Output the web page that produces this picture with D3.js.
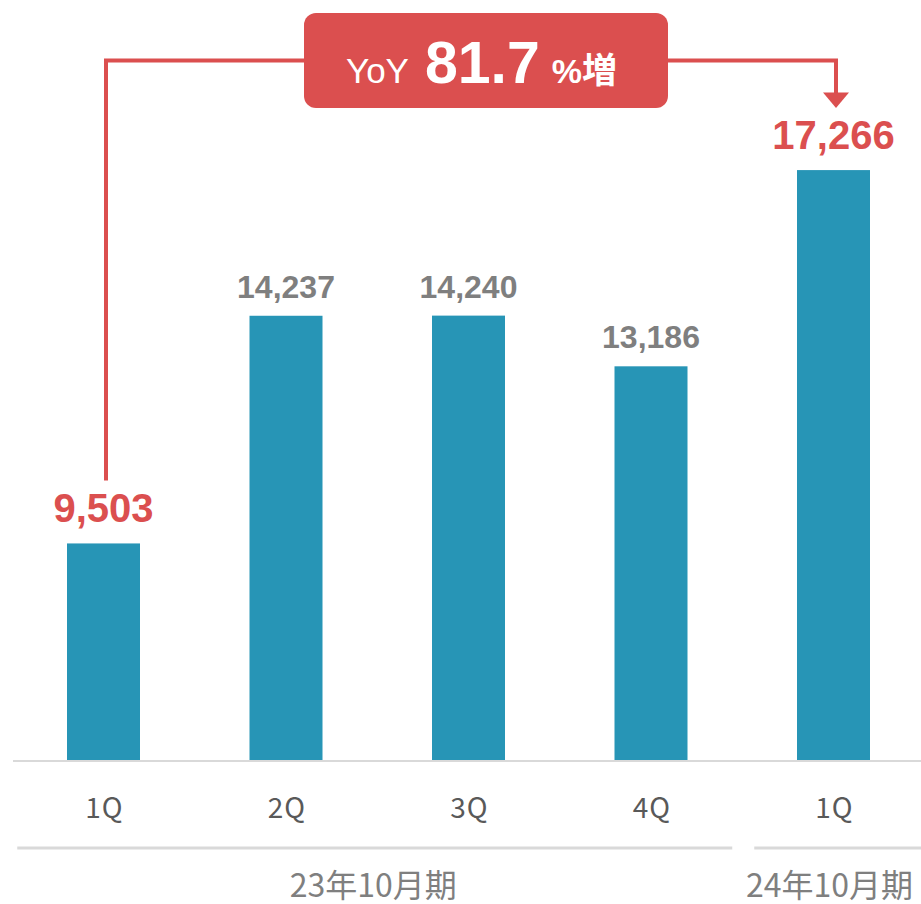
<!DOCTYPE html>
<html>
<head>
<meta charset="utf-8">
<script src="https://cdn.jsdelivr.net/npm/d3@7"></script>
<style>
  html, body { margin: 0; padding: 0; background: #fff; }
  svg { display: block; }
</style>
</head>
<body>
<div id="chart"></div>
<script>
// data
var quarters = ['1Q', '2Q', '3Q', '4Q', '1Q'];
var sales = [9503, 14237, 14240, 13186, 17266];
var highlighted = [true, false, false, false, true];
var periodLabels = ['23年10月期', '24年10月期'];
var periodFirst = [0, 4];
var periodLast = [3, 4];
var yoyRate = 81.7;

var width = 921, height = 904;
var red = '#db4f4f', blue = '#2795b6', lineGray = '#d9d9d9';

var svg = d3.select('#chart').append('svg')
    .attr('width', width)
    .attr('height', height);

var idx = d3.range(sales.length);

var x = d3.scaleBand()
    .domain(idx)
    .range([12.25, 924.75])
    .paddingInner(0.6)
    .paddingOuter(0.3);

// baseline isn't zero on this chart
var y = d3.scaleLinear()
    .domain([5000, 20000])
    .range([760, 38.6]);

var fmt = d3.format(',');
var step = x.step();
var cellStart = function(i) { return x(i) - step * 0.3; };
var cx = function(i) { return x(i) + x.bandwidth() / 2; };

// bars
svg.selectAll('.bar')
    .data(idx)
    .enter()
    .append('rect')
      .attr('class', 'bar')
      .attr('x', function(i) { return x(i); })
      .attr('y', function(i) { return y(sales[i]); })
      .attr('width', x.bandwidth())
      .attr('height', function(i) { return y.range()[0] - y(sales[i]); })
      .style('fill', blue);

// baseline
svg.append('line')
    .attr('x1', 13).attr('x2', width)
    .attr('y1', y.range()[0] + 1).attr('y2', y.range()[0] + 1)
    .style('stroke', lineGray)
    .style('stroke-width', 2);

// value labels
svg.selectAll('.value')
    .data(idx)
    .enter()
    .append('text')
      .attr('class', 'value')
      .text(function(i) { return fmt(sales[i]); })
      .attr('x', function(i) { return cx(i); })
      .attr('y', function(i) { return y(sales[i]) - (highlighted[i] ? 21 : 18); })
      .style('text-anchor', 'middle')
      .style('font-family', '"Liberation Sans", Arial, sans-serif')
      .style('font-weight', 'bold')
      .style('font-size', function(i) { return highlighted[i] ? '40px' : '32px'; })
      .style('fill', function(i) { return highlighted[i] ? red : '#7f7f7f'; });

// quarter labels
svg.selectAll('.qLabel')
    .data(idx)
    .enter()
    .append('text')
      .attr('class', 'qLabel')
      .text(function(i) { return quarters[i]; })
      .attr('x', function(i) { return cx(i) + 1; })
      .attr('y', 818)
      .style('text-anchor', 'middle')
      .style('font-family', '"Noto Sans CJK JP", "Noto Sans", sans-serif')
      .style('font-size', '28px')
      .style('letter-spacing', '1px')
      .style('fill', '#595959');

// fiscal period brackets
var periods = d3.range(periodLabels.length);
svg.selectAll('.periodLine')
    .data(periods)
    .enter()
    .append('line')
      .attr('class', 'periodLine')
      .attr('x1', function(p) { return cellStart(periodFirst[p]) + (p === 0 ? 5 : 12); })
      .attr('x2', function(p) { return p === periods.length - 1 ? width : cellStart(periodLast[p]) + step - 10; })
      .attr('y1', 848).attr('y2', 848)
      .style('stroke', lineGray)
      .style('stroke-width', 3);

svg.selectAll('.periodLabel')
    .data(periods)
    .enter()
    .append('text')
      .attr('class', 'periodLabel')
      .text(function(p) { return periodLabels[p]; })
      .attr('x', function(p) { return (cellStart(periodFirst[p]) + cellStart(periodLast[p]) + step) / 2 - 4; })
      .attr('y', 897)
      .style('text-anchor', 'middle')
      .style('font-family', '"Noto Sans CJK JP", "Noto Sans", sans-serif')
      .style('font-size', '32px')
      .style('fill', '#7f7f7f');

// YoY connector: from first 1Q label to last 1Q bar
var first = 0, last = sales.length - 1;
var lineY = 60.5;
var x0 = cx(first) + 2.5, x1 = cx(last) + 2.5;
svg.append('path')
    .attr('d', 'M' + x0 + ',' + (y(sales[first]) - 63) + 'V' + lineY + 'H' + x1 + 'V' + 94)
    .style('fill', 'none')
    .style('stroke', red)
    .style('stroke-width', 4);

svg.append('path')
    .attr('d', 'M' + (x1 - 13) + ',92.5L' + (x1 + 13) + ',92.5L' + x1 + ',108Z')
    .style('fill', red);

// callout box
var box = { x: 304, y: 13, w: 364, h: 95 };
svg.append('rect')
    .attr('x', box.x).attr('y', box.y)
    .attr('width', box.w).attr('height', box.h)
    .attr('rx', 12).attr('ry', 12)
    .style('fill', red);

var callout = svg.append('text')
    .attr('x', box.x + 42)
    .attr('y', 83)
    .style('fill', '#fff')
    .style('font-family', '"Liberation Sans", Arial, sans-serif');

callout.append('tspan')
    .text('YoY')
    .style('font-size', '35px');
callout.append('tspan')
    .text(yoyRate.toFixed(1))
    .attr('dx', 16)
    .style('font-size', '59px')
    .style('font-weight', 'bold');
callout.append('tspan')
    .text('%')
    .attr('dx', 12)
    .style('font-size', '34px')
    .style('font-weight', 'bold');
callout.append('tspan')
    .text('増')
    .style('font-family', '"Noto Sans CJK JP", sans-serif')
    .style('font-size', '35px')
    .style('font-weight', 'bold');
</script>
</body>
</html>
